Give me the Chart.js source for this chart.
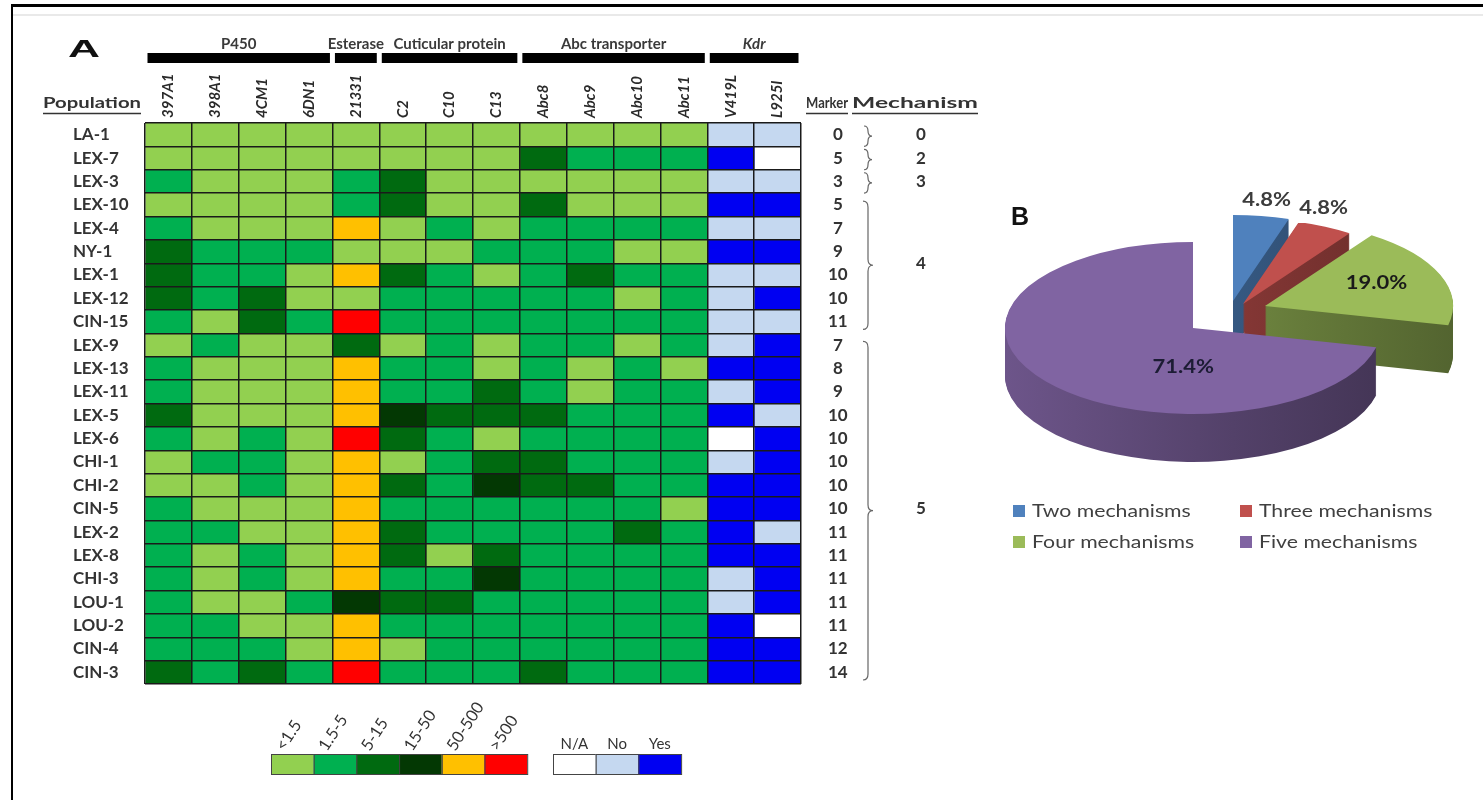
<!DOCTYPE html>
<html>
<head>
<meta charset="utf-8">
<title>Insecticide resistance markers and mechanisms</title>
<script src="https://cdn.jsdelivr.net/npm/chart.js@4.4.1/dist/chart.umd.min.js"></script>
<style>
  html, body { margin: 0; padding: 0; background: #fff; }
  body { width: 1483px; height: 800px; position: relative; overflow: hidden; }
  #frame { position: absolute; left: 11px; top: 4px; right: -10px; bottom: -10px;
           border-top: 3px solid #000; border-left: 2px solid #000; }
  #rule { position: absolute; left: 13px; top: 14px; right: 0; height: 2px; background: #e9e9e9; }
  #heat { position: absolute; left: 0; top: 0; }
  #pie { position: absolute; left: 980px; top: 130px; }
</style>
</head>
<body>
<div id="frame"></div>
<div id="rule"></div>
<canvas id="heat" width="1000" height="800"></canvas>
<canvas id="pie" width="503" height="440"></canvas>
<script>
// ---- Panel A data ----
const populations = ['LA-1', 'LEX-7', 'LEX-3', 'LEX-10', 'LEX-4', 'NY-1', 'LEX-1', 'LEX-12', 'CIN-15',
  'LEX-9', 'LEX-13', 'LEX-11', 'LEX-5', 'LEX-6', 'CHI-1', 'CHI-2', 'CIN-5', 'LEX-2', 'LEX-8',
  'CHI-3', 'LOU-1', 'LOU-2', 'CIN-4', 'CIN-3'];
const genes = ['397A1', '398A1', '4CM1', '6DN1', '21331', 'C2', 'C10', 'C13',
  'Abc8', 'Abc9', 'Abc10', 'Abc11', 'V419L', 'L925I'];
const geneGroups = ['P450', 'Esterase', 'Cuticular protein', 'Abc transporter', 'Kdr'];
const geneGroupSpan = [[0, 3], [4, 4], [5, 7], [8, 11], [12, 13]];
const markers = [0, 5, 3, 5, 7, 9, 10, 10, 11, 7, 8, 9, 10, 10, 10, 10, 10, 11, 11, 11, 11, 11, 12, 14];
const mechanismLabels = ['0', '2', '3', '4', '5'];
const mechanismRows = [[0, 0], [1, 1], [2, 2], [3, 8], [9, 23]];

// fold-change class of the 12 genes per population
// 0: <1.5, 1: 1.5-5, 2: 5-15, 3: 15-50, 4: 50-500, 5: >500
const expressionClass = [
  [0, 0, 0, 0, 0, 0, 0, 0, 0, 0, 0, 0],
  [0, 0, 0, 0, 0, 0, 0, 0, 2, 1, 1, 1],
  [1, 0, 0, 0, 1, 2, 0, 0, 0, 0, 0, 0],
  [0, 0, 0, 0, 1, 2, 0, 0, 2, 0, 0, 0],
  [1, 0, 0, 0, 4, 0, 1, 0, 1, 1, 1, 1],
  [2, 1, 1, 1, 0, 0, 0, 1, 1, 1, 0, 0],
  [2, 1, 1, 0, 4, 2, 1, 0, 1, 2, 1, 1],
  [2, 1, 2, 0, 0, 1, 1, 1, 1, 1, 0, 1],
  [1, 0, 2, 1, 5, 1, 1, 1, 1, 1, 1, 1],
  [0, 1, 0, 0, 2, 0, 1, 0, 1, 1, 0, 1],
  [1, 0, 0, 0, 4, 1, 1, 0, 1, 0, 1, 0],
  [1, 0, 0, 0, 4, 1, 1, 2, 1, 0, 1, 1],
  [2, 0, 0, 0, 4, 3, 2, 2, 2, 1, 1, 1],
  [1, 0, 1, 0, 5, 2, 1, 0, 1, 1, 1, 1],
  [0, 1, 1, 0, 4, 0, 1, 2, 2, 1, 1, 1],
  [0, 0, 1, 0, 4, 2, 1, 3, 2, 2, 1, 1],
  [1, 0, 0, 0, 4, 1, 1, 1, 1, 1, 1, 0],
  [1, 1, 0, 0, 4, 2, 1, 1, 1, 1, 2, 1],
  [1, 0, 1, 0, 4, 2, 0, 2, 1, 1, 1, 1],
  [1, 0, 1, 0, 4, 1, 1, 3, 1, 1, 1, 1],
  [1, 0, 0, 1, 3, 2, 2, 1, 1, 1, 1, 1],
  [1, 1, 0, 0, 4, 1, 1, 1, 1, 1, 1, 1],
  [1, 1, 1, 0, 4, 0, 1, 1, 1, 1, 1, 1],
  [2, 1, 2, 1, 5, 1, 1, 1, 2, 1, 1, 1]
];
// kdr mutation per population (V419L, L925I): 0: N/A, 1: No, 2: Yes
const kdrStatus = [
  [1, 1], [2, 0], [1, 1], [2, 2], [1, 1], [2, 2], [1, 1], [1, 2], [1, 1],
  [1, 2], [2, 2], [1, 2], [2, 1], [0, 2], [1, 2], [2, 2], [2, 2], [2, 1],
  [2, 2], [1, 2], [1, 2], [2, 0], [2, 2], [2, 2]
];
const foldLabels = ['<1.5', '1.5-5', '5-15', '15-50', '50-500', '>500'];
const foldColors = ['#92d050', '#00b050', '#006a10', '#033803', '#ffc000', '#ff0000'];
const kdrLabels = ['N/A', 'No', 'Yes'];
const kdrColors = ['#ffffff', '#c5d8f0', '#0000f2'];

// ---- Panel B data ----
const mechanismCategories = ['Two mechanisms', 'Three mechanisms', 'Four mechanisms', 'Five mechanisms'];
const mechanismShare = [4.8, 4.8, 19.0, 71.4];
const mechanismColors = ['#4f81bd', '#c0504d', '#9bbb59', '#8064a2'];

Chart.defaults.font.family = 'Lato, "Open Sans", sans-serif';

// text squeezed or stretched horizontally to a given width, starting at x
function fittedText(ctx, text, x, y, width) {
  const w = ctx.measureText(text).width;
  ctx.save();
  ctx.translate(x, y);
  ctx.scale(width / w, 1);
  ctx.textAlign = 'left';
  ctx.fillText(text, 0, 0);
  ctx.restore();
}
// text with a horizontal stretch factor
function stretchedText(ctx, text, x, y, sx, align) {
  ctx.save();
  ctx.translate(x, y);
  ctx.scale(sx, 1);
  ctx.textAlign = align;
  ctx.fillText(text, 0, 0);
  ctx.restore();
}
function brace(ctx, x, top, bottom, w) {
  const mid = (top + bottom) / 2;
  const r = Math.min(6, (bottom - top) / 4);
  ctx.beginPath();
  ctx.moveTo(x - w, top);
  ctx.quadraticCurveTo(x, top, x, top + r);
  ctx.lineTo(x, mid - r);
  ctx.quadraticCurveTo(x, mid, x + w, mid);
  ctx.quadraticCurveTo(x, mid, x, mid + r);
  ctx.lineTo(x, bottom - r);
  ctx.quadraticCurveTo(x, bottom, x - w, bottom);
  ctx.stroke();
}

// headers, gene family bars, braces and colour keys around the heat map
const heatDecor = {
  id: 'heatDecor',
  afterDraw(chart, args, o) {
    const ctx = chart.ctx;
    const xs = chart.scales.x;
    const yr = chart.scales.yMarker;
    const mechLeft = chart.scales.yMech.left;
    ctx.save();
    ctx.textBaseline = 'alphabetic';

    ctx.fillStyle = '#111';
    ctx.font = 'bold 24px "Liberation Sans", Arial, sans-serif';
    fittedText(ctx, 'A', o.letter.x, o.letter.y, o.letter.w);

    geneGroups.forEach((name, i) => {
      const [a, b] = geneGroupSpan[i];
      const l = xs.getPixelForValue(a) + 2.5;
      const r = xs.getPixelForValue(b + 1) - 2.5;
      ctx.fillStyle = '#000';
      ctx.fillRect(l, o.bar.top, r - l, o.bar.height);
      ctx.fillStyle = '#3a3a3a';
      ctx.font = (o.italicGroups.includes(name) ? 'italic ' : '') + 'bold 15px Lato';
      ctx.textAlign = 'center';
      ctx.fillText(name, (l + r) / 2, o.bar.top - 4);
    });

    ctx.fillStyle = '#333';
    ctx.strokeStyle = '#333';
    ctx.lineWidth = 1.4;
    ctx.font = 'bold 16px Lato';
    o.headers.forEach(h => {
      fittedText(ctx, h.text, h.x, o.headerY, h.w);
      ctx.beginPath();
      ctx.moveTo(h.x, o.headerY + 5.5);
      ctx.lineTo(h.x + h.w, o.headerY + 5.5);
      ctx.stroke();
    });

    ctx.strokeStyle = '#666';
    ctx.lineWidth = 1.2;
    mechanismRows.forEach(([a, b]) => {
      const top = yr.getPixelForValue(a - 0.5);
      const bottom = yr.getPixelForValue(b + 0.5);
      if (a === b) brace(ctx, mechLeft - 2, top + 3, bottom, 4);
      else brace(ctx, mechLeft - 2, top + 8, bottom - 4, 5);
    });

    // colour keys
    const k = o.key;
    const drawKey = (left, labels, colors, rotated) => {
      colors.forEach((c, i) => {
        const x = left + i * k.w;
        ctx.fillStyle = c;
        ctx.fillRect(x, k.top, k.w, k.h);
        ctx.strokeStyle = '#444';
        ctx.lineWidth = 1;
        ctx.strokeRect(x + 0.5, k.top + 0.5, k.w, k.h);
        ctx.fillStyle = '#333';
        if (rotated) {
          ctx.font = '16.5px Lato';
          ctx.save();
          ctx.translate(x + k.w / 2 - 8, k.top - 2);
          ctx.rotate(-57 * Math.PI / 180);
          ctx.textAlign = 'left';
          ctx.fillText(labels[i], 0, 0);
          ctx.restore();
        } else {
          ctx.font = '15px Lato';
          ctx.textAlign = 'center';
          ctx.fillText(labels[i], x + k.w / 2, k.top - 5);
        }
      });
    };
    drawKey(k.foldLeft, foldLabels, foldColors, true);
    drawKey(k.kdrLeft, kdrLabels, kdrColors, false);
    ctx.restore();
  }
};

const cellDatasets = genes.map((g, c) => ({
  label: g,
  data: populations.map(() => 1),
  backgroundColor: populations.map((p, r) =>
    c < 12 ? foldColors[expressionClass[r][c]] : kdrColors[kdrStatus[r][c - 12]]),
  borderWidth: 0,
  barPercentage: 1,
  categoryPercentage: 1,
  stack: 'cells'
}));

const tickFont = { family: 'Lato', weight: 'bold', size: 17 };

new Chart(document.getElementById('heat'), {
  type: 'bar',
  data: { labels: populations, datasets: cellDatasets },
  options: {
    responsive: false,
    animation: false,
    devicePixelRatio: 1,
    events: [],
    indexAxis: 'y',
    layout: { padding: { left: 73, top: 0, right: 50, bottom: 116 } },
    plugins: {
      legend: { display: false },
      tooltip: { enabled: false },
      heatDecor: {
        letter: { x: 68, y: 57, w: 32 },
        bar: { top: 53, height: 10 },
        italicGroups: ['Kdr'],
        headerY: 108,
        headers: [
          { text: 'Population', x: 43, w: 98 },
          { text: 'Marker', x: 806, w: 42 },
          { text: 'Mechanism', x: 852, w: 126 }
        ],
        key: { top: 754, w: 42.7, h: 20, foldLeft: 271, kdrLeft: 553 }
      }
    },
    scales: {
      x: {
        type: 'linear', stacked: true, min: 0, max: 14, position: 'bottom',
        ticks: { display: false, stepSize: 1 },
        grid: { color: '#1a1a1a', lineWidth: 1.5, drawTicks: false, z: 1 },
        border: { display: false },
        afterFit: s => { s.height = 0; }
      },
      xg: {
        type: 'category', labels: genes, position: 'top', offset: true,
        grid: { display: false, drawTicks: false },
        border: { display: false },
        ticks: {
          autoSkip: false, minRotation: 90, maxRotation: 90, padding: 5, labelOffset: 18, color: '#2a2a2a',
          font: { family: 'Lato', weight: 'bold', style: 'italic', size: 15 }
        },
        afterFit: s => { s.height = 123; }
      },
      y: {
        type: 'category', stacked: true, offset: true,
        grid: { offset: true, color: '#1a1a1a', lineWidth: 1.5, drawTicks: false, z: 1 },
        border: { display: false },
        ticks: { autoSkip: false, crossAlign: 'far', padding: 0, color: '#333', font: tickFont },
        afterFit: s => { s.width = 72; }
      },
      yMarker: {
        type: 'linear', position: 'right', min: -0.5, max: 23.5, reverse: true, bounds: 'data',
        offset: false, weight: 0,
        afterBuildTicks: s => { s.ticks = markers.map((m, i) => ({ value: i })); },
        grid: { display: false, drawTicks: false, offset: false },
        border: { display: false },
        ticks: {
          autoSkip: false, crossAlign: 'center', padding: 27, color: '#333', font: tickFont,
          callback: v => String(markers[Math.round(v)])
        },
        afterFit: s => { s.width = 69; }
      },
      yMech: {
        type: 'linear', position: 'right', min: -0.5, max: 23.5, reverse: true, bounds: 'data',
        offset: false, weight: 1,
        afterBuildTicks: s => { s.ticks = mechanismRows.map(([a, b]) => ({ value: (a + b) / 2 })); },
        grid: { display: false, drawTicks: false, offset: false },
        border: { display: false },
        ticks: {
          autoSkip: false, crossAlign: 'center', padding: 46, color: '#333', font: tickFont,
          callback: (v, i) => mechanismLabels[i]
        },
        afterFit: s => { s.width = 80; }
      }
    }
  },
  plugins: [heatDecor]
});

// ---- Panel B: tilted, extruded pie ----
function shade(hex, f) {
  const n = parseInt(hex.slice(1), 16);
  const r = Math.round(((n >> 16) & 255) * f);
  const g = Math.round(((n >> 8) & 255) * f);
  const b = Math.round((n & 255) * f);
  return `rgb(${r},${g},${b})`;
}

const pie3d = {
  id: 'pie3d',
  beforeDatasetDraw(chart, args, o) {
    const ctx = chart.ctx;
    const arcs = args.meta.data;
    const colors = chart.data.datasets[args.index].backgroundColor;
    const geo = arcs.map(a => a.getProps(['x', 'y', 'startAngle', 'endAngle', 'outerRadius'], true));
    const squash = g => { ctx.translate(g.x, g.y); ctx.scale(1, o.tilt); ctx.translate(-g.x, -g.y); };

    // side walls first, then the top faces
    geo.forEach((g, i) => {
      const [dx, dy] = o.shift[i];
      const grad = ctx.createLinearGradient(g.x - g.outerRadius, 0, g.x + g.outerRadius + 80, 0);
      grad.addColorStop(0, shade(colors[i], 0.85));
      grad.addColorStop(0.5, shade(colors[i], 0.65));
      grad.addColorStop(1, shade(colors[i], 0.47));
      for (let j = o.depth; j >= 1; j--) {
        ctx.save();
        ctx.translate(dx, dy + j);
        squash(g);
        ctx.fillStyle = grad;
        ctx.beginPath();
        ctx.moveTo(g.x, g.y);
        ctx.arc(g.x, g.y, g.outerRadius, g.startAngle, g.endAngle);
        ctx.closePath();
        ctx.fill();
        ctx.restore();
      }
    });
    arcs.forEach((a, i) => {
      const [dx, dy] = o.shift[i];
      ctx.save();
      ctx.translate(dx, dy);
      squash(geo[i]);
      a.draw(ctx);
      ctx.restore();
    });
    return false;
  },
  afterDraw(chart, args, o) {
    const ctx = chart.ctx;
    const meta = chart.getDatasetMeta(0);
    const values = chart.data.datasets[0].data;
    const colors = chart.data.datasets[0].backgroundColor;
    ctx.save();
    ctx.textBaseline = 'middle';
    meta.data.forEach((a, i) => {
      const g = a.getProps(['x', 'y', 'startAngle', 'endAngle', 'outerRadius'], true);
      const [rf, da] = o.labelPolar[i];
      const [dx, dy] = o.shift[i];
      const ang = (g.startAngle + g.endAngle) / 2 + da * Math.PI / 180;
      const px = g.x + rf * g.outerRadius * Math.cos(ang) + dx;
      const py = g.y + o.tilt * rf * g.outerRadius * Math.sin(ang) + dy;
      ctx.fillStyle = o.labelColors[i];
      ctx.font = 'bold 18px Lato';
      stretchedText(ctx, values[i].toFixed(1) + '%', px, py, 1.22, 'center');
    });

    // legend, two columns
    ctx.font = '18px Lato';
    chart.data.labels.forEach((lab, i) => {
      const x = o.legend.x[i % 2];
      const y = o.legend.y[Math.floor(i / 2)];
      ctx.fillStyle = colors[i];
      ctx.fillRect(x, y - 6, 12, 12);
      ctx.fillStyle = '#404040';
      stretchedText(ctx, lab, x + 19, y, 1.18, 'left');
    });

    ctx.textBaseline = 'alphabetic';
    ctx.fillStyle = '#111';
    ctx.font = 'bold 25px "Liberation Sans", Arial, sans-serif';
    ctx.textAlign = 'left';
    ctx.fillText('B', o.letter.x, o.letter.y);
    ctx.restore();
  }
};

new Chart(document.getElementById('pie'), {
  type: 'pie',
  data: {
    labels: mechanismCategories,
    datasets: [{ data: mechanismShare, backgroundColor: mechanismColors, borderWidth: 0 }]
  },
  options: {
    responsive: false,
    animation: false,
    devicePixelRatio: 1,
    events: [],
    layout: { padding: { left: 25, right: 102, top: 10, bottom: 54 } },
    plugins: {
      legend: { display: false },
      tooltip: { enabled: false },
      pie3d: {
        tilt: 0.457,
        depth: 48,
        shift: [[40, -27], [50, -24], [72, -22], [0, 0]],
        labelPolar: [[1.19, 0], [1.2, -5], [0.65, -3], [0.46, -45]],
        labelColors: ['#3c3c3c', '#3c3c3c', '#1a1a1a', '#1c1c34'],
        legend: { x: [33, 260], y: [381, 412] },
        letter: { x: 31, y: 95 }
      }
    }
  },
  plugins: [pie3d]
});
</script>
</body>
</html>
